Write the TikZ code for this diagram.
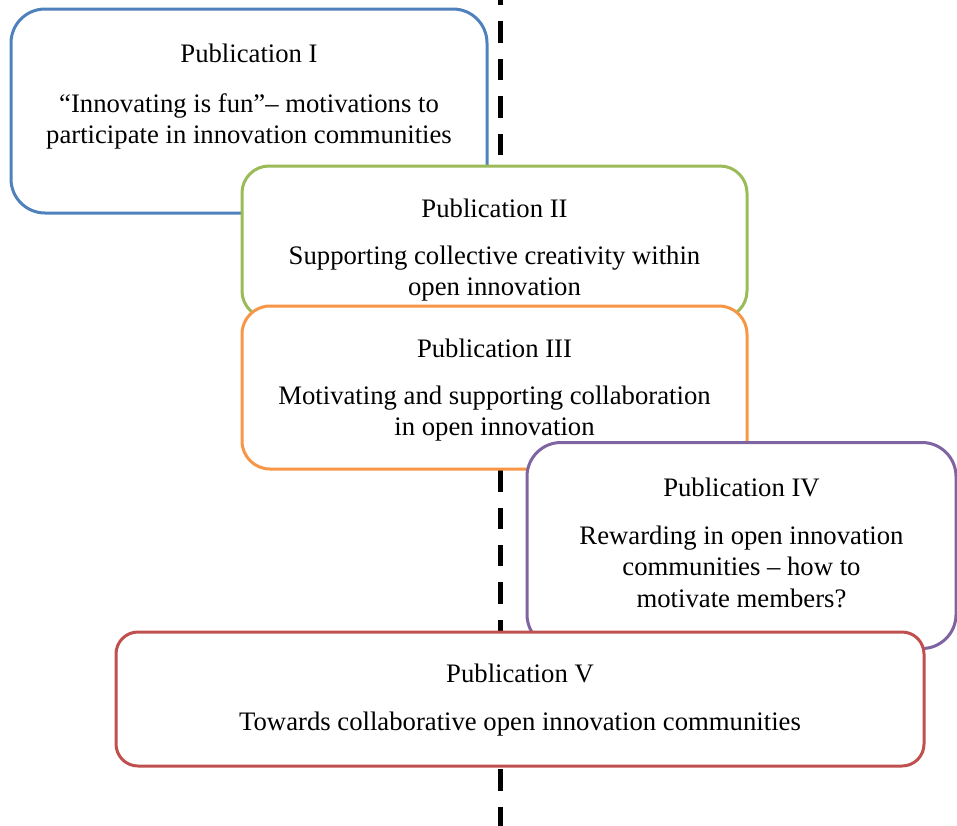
\documentclass[tikz,border=0pt]{standalone}
\usepackage{fontspec}
\setmainfont{Liberation Serif}
\definecolor{pubblue}{HTML}{4F81BD}
\definecolor{pubgreen}{HTML}{9BBB59}
\definecolor{puborange}{HTML}{F79646}
\definecolor{pubpurple}{HTML}{8064A2}
\definecolor{pubred}{HTML}{C0504D}
\tikzset{
  pubbox/.style={draw=#1, line width=3pt, fill=white, inner sep=0pt, outer sep=0pt},
  pubtext/.style={font=\fontsize{26.7}{31.5}\selectfont, align=center, anchor=base, inner sep=0pt},
  timeline/.style={draw=black, line width=5pt, dash pattern=on 21.4pt off 16pt}
}
\begin{document}
\begin{tikzpicture}[x=1pt, y=-1pt]
\useasboundingbox (0,0) rectangle (957,825);

% vertical dashed divider behind the boxes
\coordinate (lineTop) at (500,-16);
\coordinate (lineBot) at (500,841);
\draw[timeline] (lineTop) -- (lineBot);

% Publication I (multi-line texts are placed by the baseline of their last line)
\node[pubbox=pubblue, rounded corners=34pt, minimum width=476pt, minimum height=204pt] (b1) at (249,111) {};
\node[pubtext] (t1) at (249,62) {Publication I};
\node[pubtext] (d1) at (249,143.5) {“Innovating is fun”– motivations to\\participate in innovation communities};

% Publication II
\node[pubbox=pubgreen, rounded corners=27pt, minimum width=505pt, minimum height=152pt] (b2) at (494.5,242) {};
\node[pubtext] (t2) at (494.5,217) {Publication II};
\node[pubtext] (d2) at (494.5,295.5) {Supporting collective creativity within\\open innovation};

% Publication III
\node[pubbox=puborange, rounded corners=28pt, minimum width=505pt, minimum height=163pt] (b3) at (494.5,387.5) {};
\node[pubtext] (t3) at (494.5,357) {Publication III};
\node[pubtext] (d3) at (494.5,435.5) {Motivating and supporting collaboration\\in open innovation};

% Publication IV
\node[pubbox=pubpurple, rounded corners=34pt, minimum width=429pt, minimum height=206pt] (b4) at (741.5,545.5) {};
\node[pubtext] (t4) at (741.5,496) {Publication IV};
\node[pubtext] (d4) at (741.5,607) {Rewarding in open innovation\\communities – how to\\motivate members?};

% Publication V
\node[pubbox=pubred, rounded corners=22pt, minimum width=808pt, minimum height=134pt] (b5) at (520,699) {};
\node[pubtext] (t5) at (520,682) {Publication V};
\node[pubtext] (d5) at (520,730) {Towards collaborative open innovation communities};
\end{tikzpicture}
\end{document}
